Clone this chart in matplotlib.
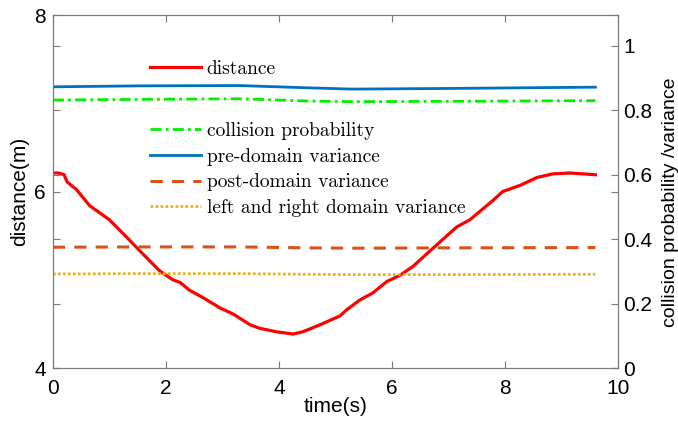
import matplotlib.pyplot as plt
from matplotlib.ticker import FuncFormatter

# distance curve (left axis)
t_dist = [0, 0.1, 0.2, 0.25, 0.42, 0.65, 1.0, 1.31, 1.49, 1.72, 1.89, 2.12, 2.25, 2.42,
          2.65, 2.96, 3.13, 3.22, 3.49, 3.66, 3.96, 4.25, 4.42, 4.73, 5.08, 5.2, 5.43,
          5.66, 5.91, 6.14, 6.37, 6.73, 7.15, 7.38, 7.79, 7.96, 8.27, 8.57, 8.85, 9.15, 9.6]
distance = [6.21, 6.21, 6.19, 6.11, 6.02, 5.84, 5.68, 5.48, 5.36, 5.21, 5.10, 5.00, 4.97, 4.88,
            4.80, 4.68, 4.63, 4.60, 4.49, 4.45, 4.41, 4.385, 4.41, 4.49, 4.59, 4.66, 4.77,
            4.85, 4.98, 5.05, 5.15, 5.36, 5.60, 5.68, 5.90, 6.00, 6.07, 6.16, 6.20, 6.21, 6.19]

# right axis series
t_var = [0, 1.5, 3.3, 4.5, 5.3, 7.0, 9.6]
pre_var = [0.873, 0.876, 0.877, 0.870, 0.866, 0.868, 0.872]
collision = [0.832, 0.834, 0.836, 0.829, 0.827, 0.828, 0.830]
post_var = [0.375, 0.376, 0.376, 0.373, 0.372, 0.373, 0.374]
lr_var = [0.292, 0.293, 0.293, 0.291, 0.290, 0.290, 0.291]

right_ticks = [0, 0.2, 0.4, 0.6, 0.8, 1.0]
left_ticks = [4, 6, 8]

plt.rcParams['font.family'] = ['Liberation Sans', 'DejaVu Sans']
edge = '#7a7a7a'

fig = plt.figure(figsize=(6.78, 4.23), dpi=100)
ax = fig.add_axes([0.078, 0.13, 0.8335, 0.8345])
ax2 = ax.twinx()

l_dist, = ax.plot(t_dist, distance, color='#ff0000', lw=2.3, label='distance')
l_col, = ax2.plot(t_var, collision, color='#00ee00', lw=2.0, ls=(0, (4, 1.5, 1, 1.5)),
                  label='collision probability')
l_pre, = ax2.plot(t_var, pre_var, color='#0072bd', lw=2.0, label='pre-domain variance')
l_post, = ax2.plot(t_var, post_var, color='#d95319', lw=2.2, ls=(0, (4, 3)),
                   label='post-domain variance')
l_lr, = ax2.plot(t_var, lr_var, color='#edb120', lw=2.0, ls=(0, (1, 0.8)),
                 label='left and right domain variance')

ax.set_xlim(0, 10)
ax.set_ylim(4, 8)
ax2.set_ylim(0, 1.096)
ax.set_xticks([0, 2, 4, 6, 8, 10])
ax.set_yticks(left_ticks)
ax2.set_yticks(right_ticks)
ax2.yaxis.set_major_formatter(FuncFormatter(lambda v, p: '%g' % v))

ax.tick_params(axis='x', direction='in', top=True, length=5, color=edge, labelsize=15, pad=8)
ax.tick_params(axis='y', direction='in', left=True, right=True, labelright=False,
               length=5, color=edge, labelsize=15, pad=5)
ax2.tick_params(axis='y', direction='in', left=True, right=True, labelleft=False,
                labelright=True, length=5, color=edge, labelsize=15, pad=4)
for a in (ax, ax2):
    for s in a.spines.values():
        s.set_color(edge)

ax.set_xlabel('time(s)', fontsize=15, labelpad=-1)
ax.set_ylabel('distance(m)', fontsize=15, labelpad=4)
ax2.set_ylabel('collision probability /variance', fontsize=14)
ax2.yaxis.set_label_coords(1.077, 0.47)

leg1 = ax2.legend(handles=[l_dist], loc='upper left', bbox_to_anchor=(0.155, 0.9),
                  frameon=False, prop={'family': 'cmr10', 'size': 14},
                  handlelength=2.6, handletextpad=0.3, borderpad=0)
ax2.add_artist(leg1)
ax2.legend(handles=[l_col, l_pre, l_post, l_lr], loc='upper left',
           bbox_to_anchor=(0.155, 0.725), frameon=False,
           prop={'family': 'cmr10', 'size': 14},
           handlelength=2.6, handletextpad=0.3, borderpad=0, labelspacing=0.4)

fig.savefig('out.png', dpi=100)
